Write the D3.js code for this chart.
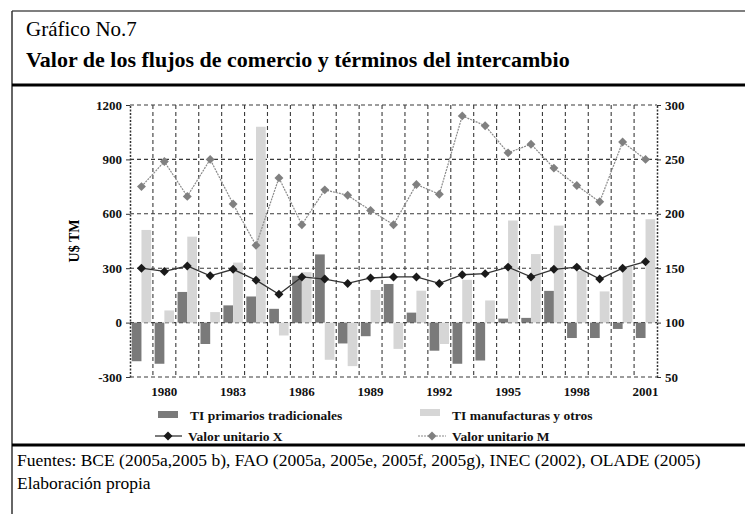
<!DOCTYPE html>
<html>
<head>
<meta charset="utf-8">
<script src="https://cdn.jsdelivr.net/npm/d3@7"></script>
<style>
body{margin:0;background:#fff;}
svg{display:block;font-family:"Liberation Serif",serif;}
</style>
</head>
<body>
<div id="chart"></div>
<script>
const years=[1979,1980,1981,1982,1983,1984,1985,1986,1987,1988,1989,1990,1991,1992,1993,1994,1995,1996,1997,1998,1999,2000,2001];
const tickYears=[1980,1983,1986,1989,1992,1995,1998,2001];
const primarios=[-213,-227,169,-118,95,144,76,258,376,-115,-75,213,55,-155,-227,-209,22,26,175,-85,-85,-35,-85];
const manufacturas=[511,67,474,58,331,1080,-71,278,-205,-240,180,-145,176,-118,236,122,563,378,535,285,172,310,570];
const valorX=[150,147,152,143,149,139,126,142,140,136,141,142,142,136,144,145,151,142,149,151,140,150,156];
const valorM=[225,248,216,250,209,171,233,190,222,217,203,190,227,218,290,281,256,264,242,226,211,266,250];
const leftTicks=[-300,0,300,600,900,1200];
const rightTicks=[50,100,150,200,250,300];

const w=745,h=514;
const L=130,R=657,T=105,B=377;

const svg=d3.select("#chart").append("svg").attr("width",w).attr("height",h);

// marco
svg.append("line").attr("x1",12).attr("x2",w).attr("y1",11).attr("y2",11).attr("stroke","#555").attr("stroke-width",1.5);
svg.append("line").attr("x1",12).attr("x2",12).attr("y1",11).attr("y2",h).attr("stroke","#333").attr("stroke-width",1.5);
svg.append("line").attr("x1",12).attr("x2",w).attr("y1",85).attr("y2",85).attr("stroke","#000").attr("stroke-width",3);
svg.append("line").attr("x1",12).attr("x2",w).attr("y1",445).attr("y2",445).attr("stroke","#000").attr("stroke-width",3);

svg.append("text").attr("x",26).attr("y",36).attr("font-size",21).text("Gráfico No.7");
svg.append("text").attr("x",26).attr("y",67).attr("font-size",22).attr("font-weight","bold")
  .text("Valor de los flujos de comercio y términos del intercambio");
svg.append("text").attr("x",17).attr("y",466).attr("font-size",17.5).text("Fuentes: BCE (2005a,2005 b), FAO (2005a, 2005e, 2005f, 2005g), INEC (2002), OLADE (2005)");
svg.append("text").attr("x",17).attr("y",489).attr("font-size",17.5).text("Elaboración propia");

// escalas
const x=d3.scaleBand().domain(years).range([L,R]).padding(0);
const x1=d3.scaleBand().domain(["p","m"]).range([0,x.bandwidth()]).paddingOuter(0.18).paddingInner(0);
const yL=d3.scaleLinear().domain([-300,1200]).range([B,T]);
const yR=d3.scaleLinear().domain([50,300]).range([B,T]);

// rejilla
const grid=svg.append("g").attr("stroke","#3a3a3a").attr("stroke-width",1.1).attr("stroke-dasharray","4,3");
grid.selectAll("line.h").data(leftTicks).join("line").attr("class","h")
  .attr("x1",L).attr("x2",R).attr("y1",d=>yL(d)).attr("y2",d=>yL(d));
grid.selectAll("line.v").data(years.slice(1)).join("line").attr("class","v")
  .attr("x1",d=>x(d)).attr("x2",d=>x(d)).attr("y1",T).attr("y2",B);

// barras
const g=svg.append("g");
g.selectAll("rect.p").data(years).join("rect").attr("class","p")
  .attr("x",d=>x(d)+x1("p")).attr("width",x1.bandwidth())
  .attr("y",(d,i)=>yL(Math.max(0,primarios[i]))).attr("height",(d,i)=>Math.abs(yL(primarios[i])-yL(0)))
  .attr("fill","#7a7a7a");
g.selectAll("rect.m").data(years).join("rect").attr("class","m")
  .attr("x",d=>x(d)+x1("m")).attr("width",x1.bandwidth())
  .attr("y",(d,i)=>yL(Math.max(0,manufacturas[i]))).attr("height",(d,i)=>Math.abs(yL(manufacturas[i])-yL(0)))
  .attr("fill","#d6d6d6");

// ejes
const axStyle=sel=>{
  sel.select(".domain").attr("stroke","#333").attr("stroke-dasharray","2,1.5").attr("stroke-width",1.5);
  sel.selectAll(".tick line").attr("stroke","#333");
  sel.selectAll(".tick text").attr("font-family","Liberation Serif").attr("font-weight","bold").attr("font-size",13).attr("fill","#111");
};
const fmt=d=>String(d);
svg.append("g").attr("transform",`translate(${L},0)`)
  .call(d3.axisLeft(yL).tickValues(leftTicks).tickFormat(fmt).tickSize(4).tickSizeOuter(0).tickPadding(4))
  .call(axStyle);
svg.append("g").attr("transform",`translate(${R},0)`)
  .call(d3.axisRight(yR).tickValues(rightTicks).tickFormat(fmt).tickSize(4).tickSizeOuter(0).tickPadding(4))
  .call(axStyle);
svg.append("g").attr("transform",`translate(0,${B})`)
  .call(d3.axisBottom(x).tickValues(tickYears).tickFormat(fmt).tickSize(0).tickPadding(10))
  .call(sel=>{sel.select(".domain").remove();})
  .call(axStyle);

svg.append("text").attr("transform","translate(79,241) rotate(-90)").attr("text-anchor","middle")
  .attr("font-size",14).attr("font-weight","bold").text("U$ TM");

// líneas
const cx=d=>x(d)+x.bandwidth()/2;
const lineM=d3.line().x(d=>cx(d)).y((d,i)=>yR(valorM[i]));
const lineX=d3.line().x(d=>cx(d)).y((d,i)=>yR(valorX[i]));
svg.append("path").datum(years).attr("d",lineM).attr("fill","none").attr("stroke","#8a8a8a").attr("stroke-width",1.2).attr("stroke-dasharray","2,1");
svg.append("path").datum(years).attr("d",lineX).attr("fill","none").attr("stroke","#333").attr("stroke-width",1.3);
const diamond=d3.symbol(d3.symbolSquare,40);
svg.selectAll("path.dm").data(years).join("path").attr("class","dm").attr("d",diamond)
  .attr("transform",(d,i)=>`translate(${cx(d)},${yR(valorM[i])}) rotate(45)`).attr("fill","#808080");
svg.selectAll("path.dx").data(years).join("path").attr("class","dx").attr("d",diamond)
  .attr("transform",(d,i)=>`translate(${cx(d)},${yR(valorX[i])}) rotate(45)`).attr("fill","#1a1a1a");

// leyenda
const lg=svg.append("g").attr("font-size",13.5).attr("font-weight","bold").attr("fill","#111");
lg.append("rect").attr("x",158).attr("y",411).attr("width",20).attr("height",7).attr("fill","#7a7a7a");
lg.append("text").attr("x",190).attr("y",420).text("TI primarios tradicionales");
lg.append("rect").attr("x",420).attr("y",409).attr("width",20).attr("height",7).attr("fill","#d6d6d6");
lg.append("text").attr("x",452).attr("y",420).text("TI manufacturas y otros");
lg.append("line").attr("x1",155).attr("x2",182).attr("y1",436).attr("y2",436).attr("stroke","#333").attr("stroke-width",1.3);
lg.append("path").attr("d",diamond).attr("transform","translate(168,436) rotate(45)").attr("fill","#1a1a1a");
lg.append("text").attr("x",188).attr("y",441).text("Valor unitario X");
lg.append("line").attr("x1",418).attr("x2",446).attr("y1",436).attr("y2",436).attr("stroke","#8a8a8a").attr("stroke-width",1.2).attr("stroke-dasharray","2,1");
lg.append("path").attr("d",diamond).attr("transform","translate(432,436) rotate(45)").attr("fill","#808080");
lg.append("text").attr("x",452).attr("y",441).text("Valor unitario M");
</script>
</body>
</html>
